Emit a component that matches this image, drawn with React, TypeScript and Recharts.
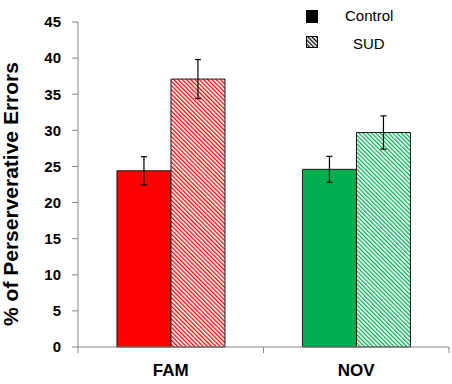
import { BarChart, Bar, XAxis, YAxis, Cell, ErrorBar, Legend } from "recharts";

// values
const categories = ["FAM", "NOV"];
const controlValues = [24.4, 24.6];
const controlErrors = [1.95, 1.8];
const sudValues = [37.1, 29.7];
const sudErrors = [2.7, 2.3];
const groupColors = ["#FF0000", "#00B050"];
const yTicks = [0, 5, 10, 15, 20, 25, 30, 35, 40, 45];
const seriesNames = ["Control", "SUD"];

const FONT = '"Liberation Sans", Arial, sans-serif';
const AXIS_GRAY = "#868686";

const data = categories.map((name, i) => ({
  name,
  control: controlValues[i],
  controlErr: controlErrors[i],
  sud: sudValues[i],
  sudErr: sudErrors[i]
}));

function CategoryTick(props: any) {
  const { x, y, payload } = props;
  const half = payload?.offset ?? 0;
  return (
    <g>
      <line x1={x - half} y1={y} x2={x - half} y2={y + 6} stroke={AXIS_GRAY} />
      <line x1={x + half} y1={y} x2={x + half} y2={y + 6} stroke={AXIS_GRAY} />
      <text
        x={x}
        y={y + 28.5}
        textAnchor="middle"
        fontFamily={FONT}
        fontWeight="bold"
        fontSize={17}
        fill="#000"
      >
        {payload.value}
      </text>
    </g>
  );
}

function YLabel() {
  return (
    <text
      x={18}
      y={194}
      transform="rotate(-90, 18, 194)"
      textAnchor="middle"
      fontFamily={FONT}
      fontWeight="bold"
      fontSize={21}
      fill="#000"
    >
      % of Perserverative Errors
    </text>
  );
}

function LegendBox() {
  return (
    <div style={{ position: "relative", width: 140, height: 50, fontFamily: FONT, fontSize: 15 }}>
      <svg width={14} height={14} style={{ position: "absolute", left: 6, top: 10 }}>
        <rect x={0} y={0} width={12} height={13} fill="#000" />
      </svg>
      <div style={{ position: "absolute", left: 45, top: 7, lineHeight: "18px" }}>{seriesNames[0]}</div>
      <svg width={14} height={14} style={{ position: "absolute", left: 6, top: 36 }}>
        <defs>
          <pattern id="hatch-legend" width={3} height={3} patternUnits="userSpaceOnUse" patternTransform="rotate(-45)">
            <rect width={3} height={3} fill="#fff" />
            <rect width={1.3} height={3} fill="#000" />
          </pattern>
        </defs>
        <rect x={0.5} y={0.5} width={11} height={11} fill="url(#hatch-legend)" stroke="#000" />
      </svg>
      <div style={{ position: "absolute", left: 53, top: 35, lineHeight: "18px" }}>{seriesNames[1]}</div>
    </div>
  );
}

export default function App() {
  return (
    <div style={{ position: "absolute", left: 0, top: 0 }}>
      <BarChart
        width={452}
        height={384}
        data={data}
        margin={{ top: 22, right: 3, bottom: 0, left: 0 }}
        barCategoryGap="21%"
        barGap={0}
      >
        <defs>
          {groupColors.map((c, i) => (
            <pattern
              key={i}
              id={`hatch-${i}`}
              width={3}
              height={3}
              patternUnits="userSpaceOnUse"
              patternTransform="rotate(-45)"
            >
              <rect width={3} height={3} fill="#fff" />
              <rect width={1.3} height={3} fill={c} />
            </pattern>
          ))}
        </defs>
        <XAxis
          dataKey="name"
          height={37}
          stroke={AXIS_GRAY}
          tickLine={false}
          tickSize={0}
          tickMargin={0}
          tick={<CategoryTick />}
        />
        <YAxis
          width={78}
          domain={[0, 45]}
          ticks={yTicks}
          interval={0}
          stroke={AXIS_GRAY}
          tickSize={6}
          tickMargin={11}
          tick={{ fill: "#000", fontFamily: FONT, fontWeight: "bold", fontSize: 15 }}
          label={{ content: () => <YLabel /> }}
        />
        <Legend
          layout="horizontal"
          verticalAlign="middle"
          align="center"
          content={() => <LegendBox />}
          wrapperStyle={{ position: "absolute", left: 300, top: 0, width: 140, height: 50 }}
        />
        <Bar dataKey="control" name={seriesNames[0]} stroke="#1a1a1a" strokeWidth={1} isAnimationActive={false}>
          {data.map((_, i) => (
            <Cell key={i} fill={groupColors[i]} />
          ))}
          <ErrorBar dataKey="controlErr" width={3} stroke="#000" strokeWidth={1.2} />
        </Bar>
        <Bar dataKey="sud" name={seriesNames[1]} stroke="#1a1a1a" strokeWidth={1} isAnimationActive={false}>
          {data.map((_, i) => (
            <Cell key={i} fill={`url(#hatch-${i})`} />
          ))}
          <ErrorBar dataKey="sudErr" width={3} stroke="#000" strokeWidth={1.2} />
        </Bar>
      </BarChart>
    </div>
  );
}
